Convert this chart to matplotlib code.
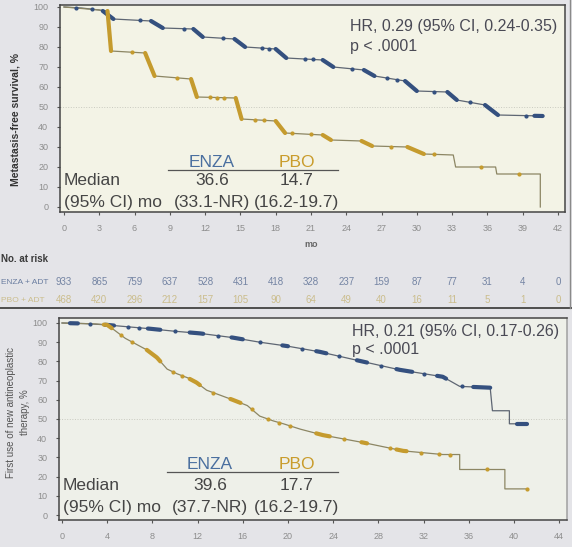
import numpy as np
import matplotlib
matplotlib.use("Agg")
import matplotlib.pyplot as plt
from matplotlib.transforms import blended_transform_factory
from matplotlib.lines import Line2D

plt.rcParams["font.family"] = ["Liberation Sans", "DejaVu Sans"]

W, H = 572, 547

ENZA_MARK = "#34507f"
PBO_MARK = "#c59b2e"
ENZA_LINE = "#5e6673"
PBO_LINE = "#8c8664"
ENZA_TXT = "#4a6f9f"
PBO_TXT = "#c99c2c"

# ---- top panel: metastasis-free survival ----
mfs_ticks = [0, 3, 6, 9, 12, 15, 18, 21, 24, 27, 30, 33, 36, 39, 42]

mfs_enza_t = [0, 1.5, 3.0, 3.3, 4.2, 7.4, 8.4, 11.0, 11.8, 14.5, 15.4, 18.0, 18.9,
              22.0, 22.9, 25.5, 26.4, 29.0, 30.0, 32.6, 33.4, 35.8, 36.9, 40.7]
mfs_enza_v = [100, 99.5, 98.5, 98, 94, 93, 89.5, 89, 85, 84, 80, 79, 74.5,
              73.5, 70, 68.5, 65.5, 63, 58, 57.5, 53.5, 51, 46, 45.5]
mfs_enza_bold = [(3.3, 4.2), (7.4, 8.4), (11.0, 11.8), (14.5, 15.4), (18.0, 18.9),
                 (22.0, 22.9), (25.5, 26.4), (29.0, 30.0), (32.6, 33.4), (35.8, 36.9),
                 (40.0, 40.7)]
mfs_enza_dots = [1.0, 2.4, 6.5, 10.2, 13.5, 16.8, 17.4, 20.5, 21.2, 24.5, 27.5, 28.3,
                 31.5, 34.5, 39.3]

mfs_pbo_t = [0, 3.0, 3.7, 4.0, 6.9, 7.7, 10.8, 11.3, 14.6, 15.1, 18.0, 18.8, 22.0,
             22.7, 25.3, 26.2, 29.2, 30.6, 33.1, 33.3, 36.7, 36.8, 40.5, 40.5]
mfs_pbo_v = [100, 98.5, 98, 78, 77, 65.5, 64, 55, 54.5, 44, 43, 37, 36,
             33.5, 33, 30.5, 30, 26.5, 26, 20, 20, 16.5, 16.5, 0]
mfs_pbo_bold = [(3.7, 4.0), (6.9, 7.7), (10.8, 11.3), (14.6, 15.1), (18.0, 18.8),
                (22.0, 22.7), (25.3, 26.2), (29.2, 30.6)]
mfs_pbo_dots = [5.8, 9.6, 12.4, 13.0, 13.6, 16.2, 17.0, 19.4, 21.0, 27.8, 31.5,
                35.5, 38.7]

# numbers at risk
risk_enza = [933, 865, 759, 637, 528, 431, 418, 328, 237, 159, 87, 77, 31, 4, 0]
risk_pbo = [468, 420, 296, 212, 157, 105, 90, 64, 49, 40, 16, 11, 5, 1, 0]

# ---- bottom panel: first use of new antineoplastic therapy ----
tfu_ticks = [0, 4, 8, 12, 16, 20, 24, 28, 32, 36, 40, 44]

tfu_enza_t = [0, 2.0, 4.0, 4.9, 7.8, 9.8, 12.2, 15.1, 17.5, 19.9, 22.8, 26.4, 29.9,
              33.7, 35.2, 37.9, 38.1, 39.6, 39.6, 41.2]
tfu_enza_v = [100, 99.7, 99, 98.5, 97, 95.8, 94.6, 92.4, 90, 88, 85, 80.2, 75.6,
              72, 67, 66.3, 54.3, 54.3, 47.5, 47.5]
tfu_enza_bold = [(0.7, 1.4), (3.8, 4.6), (7.6, 8.7), (11.3, 12.5), (15.0, 16.0),
                 (19.5, 20.0), (22.5, 23.4), (26.1, 27.0), (29.6, 31.0), (33.2, 34.0),
                 (36.4, 37.9), (40.3, 41.2)]
tfu_enza_dots = [2.5, 5.8, 6.8, 10.0, 13.8, 17.5, 21.2, 24.5, 28.2, 32.0, 35.4]

tfu_pbo_t = [0, 3.0, 4.0, 4.7, 5.6, 7.5, 8.4, 9.3, 10.2, 11.1, 11.9, 12.8, 14.0,
             15.1, 16.4, 17.5, 18.7, 19.6, 21.1, 23.1, 26.6, 30.2, 33.7, 35.2, 35.2,
             39.2, 39.2, 41.2]
tfu_pbo_v = [100, 99.5, 99, 96, 92, 86, 82, 76, 73.5, 71.5, 69, 65, 62.4,
             60, 57, 51.5, 49, 47.5, 44.7, 41.6, 37.8, 33.4, 31.5, 31.5, 23.7,
             23.7, 13.6, 13.6]
tfu_pbo_bold = [(3.7, 4.4), (7.5, 8.7), (11.3, 12.2), (14.9, 15.8), (22.5, 23.7),
                (26.5, 27.0), (29.6, 30.5)]
tfu_pbo_dots = [5.2, 6.2, 9.8, 10.6, 13.4, 16.8, 18.2, 19.2, 20.2, 25.0, 29.0, 31.8,
                33.4, 34.3, 37.6, 41.2]


def px_ax(fig, l, t, r, b):
    return fig.add_axes([l / W, 1 - b / H, (r - l) / W, (b - t) / H])


def style(ax, ticks, xlim, ylim, face):
    ax.set_facecolor(face)
    ax.set_xlim(*xlim)
    ax.set_ylim(*ylim)
    ax.set_xticks(ticks)
    ax.set_yticks(range(0, 101, 10))
    ax.tick_params(labelsize=6.5, labelcolor="#8d8d8d", color="#555555",
                   length=2.5, width=0.8, pad=6)
    for s in ax.spines.values():
        s.set_color("#454545")
        s.set_linewidth(1.1)
    ax.axhline(50, color="#c9cac0", lw=0.7, ls=":", zorder=1)


def draw_km(ax, t, v, line_c, mark_c, bold, dots):
    ax.plot(t, v, color=line_c, lw=0.9, zorder=3)
    for a, b in bold:
        tt = np.linspace(a, b, 15)
        ax.plot(tt, np.interp(tt, t, v), color=mark_c, lw=3.0,
                solid_capstyle="round", zorder=4)
    ax.plot(dots, np.interp(dots, t, v), ls="", marker="o", ms=2.0,
            color=mark_c, zorder=5)


def median_box(ax, ys, enza_med, enza_ci, pbo_med, pbo_ci, x_enza, x_pbo, x_line):
    y_head, y_line, y_med, y_ci = ys
    fs = 12.5
    ax.text(0.008, y_med, "Median", transform=ax.transAxes, fontsize=fs,
            color="#454545", va="center", ha="left", zorder=6)
    ax.text(0.008, y_ci, "(95% CI) mo", transform=ax.transAxes, fontsize=fs,
            color="#454545", va="center", ha="left", zorder=6)
    ax.text(x_enza, y_head, "ENZA", transform=ax.transAxes, fontsize=fs,
            color=ENZA_TXT, va="center", ha="center", zorder=6)
    ax.text(x_pbo, y_head, "PBO", transform=ax.transAxes, fontsize=fs,
            color=PBO_TXT, va="center", ha="center", zorder=6)
    ax.add_line(Line2D(x_line, [y_line, y_line], transform=ax.transAxes,
                       color="#555555", lw=0.9, zorder=6))
    ax.text(x_enza, y_med, enza_med, transform=ax.transAxes, fontsize=fs,
            color="#454545", va="center", ha="center", zorder=6)
    ax.text(x_pbo, y_med, pbo_med, transform=ax.transAxes, fontsize=fs,
            color="#454545", va="center", ha="center", zorder=6)
    ax.text(x_enza, y_ci, enza_ci, transform=ax.transAxes, fontsize=fs,
            color="#454545", va="center", ha="center", zorder=6)
    ax.text(x_pbo, y_ci, pbo_ci, transform=ax.transAxes, fontsize=fs,
            color="#454545", va="center", ha="center", zorder=6)


fig = plt.figure(figsize=(W / 100, H / 100), dpi=100)
fig.patch.set_facecolor("#e4e4e8")

# top panel
ax1 = px_ax(fig, 60, 5, 565, 212)
style(ax1, mfs_ticks, (-0.34, 42.6), (-2.5, 101.0), "#f3f3e6")
draw_km(ax1, mfs_enza_t, mfs_enza_v, ENZA_LINE, ENZA_MARK, mfs_enza_bold, mfs_enza_dots)
draw_km(ax1, mfs_pbo_t, mfs_pbo_v, PBO_LINE, PBO_MARK, mfs_pbo_bold, mfs_pbo_dots)
ax1.text(0.574, 0.895, "HR, 0.29 (95% CI, 0.24-0.35)", transform=ax1.transAxes,
         fontsize=11.5, color="#4a4a55", va="center")
ax1.text(0.574, 0.80, "p < .0001", transform=ax1.transAxes,
         fontsize=11.5, color="#4a4a55", va="center")
median_box(ax1, (0.24, 0.205, 0.15, 0.045), "36.6", "(33.1-NR)", "14.7", "(16.2-19.7)",
           0.301, 0.469, [0.214, 0.55])
ax1.text(21, -0.155, "mo", transform=blended_transform_factory(ax1.transData, ax1.transAxes),
         fontsize=6.5, fontweight="bold", color="#666666", ha="center", va="center")
fig.text(16 / W, 1 - 120 / H, "Metastasis-free survival, %", rotation=90,
         fontsize=7.5, fontweight="bold", color="#333333", ha="center", va="center")

# numbers at risk
tr = blended_transform_factory(ax1.transData, fig.transFigure)
fig.text(1 / W, 1 - 259 / H, "No. at risk", fontsize=7, fontweight="bold",
         color="#3a3a3a", ha="left", va="center")
fig.text(1 / W, 1 - 282 / H, "ENZA + ADT", fontsize=6, color="#6a7da0",
         ha="left", va="center")
fig.text(1 / W, 1 - 300 / H, "PBO + ADT", fontsize=6, color="#cbbd8c",
         ha="left", va="center")
for m, ne, npb in zip(mfs_ticks, risk_enza, risk_pbo):
    fig.text(m, 1 - 282 / H, str(ne), transform=tr, fontsize=7, color="#7484a3",
             ha="center", va="center")
    fig.text(m, 1 - 300 / H, str(npb), transform=tr, fontsize=7, color="#cbbd8c",
             ha="center", va="center")

fig.add_artist(Line2D([0, 1], [1 - 308 / H, 1 - 308 / H], transform=fig.transFigure,
                      color="#4d4d4d", lw=1.4))
fig.add_artist(Line2D([569.5 / W, 569.5 / W], [1 - 308 / H, 1], transform=fig.transFigure,
                      color="#8a8a8a", lw=1.0))

# bottom panel
ax2 = px_ax(fig, 59, 318, 567, 520)
style(ax2, tfu_ticks, (-0.27, 44.7), (-2.6, 102.6), "#eef0e9")
ax2.spines["right"].set_color("#a0a0a0")
draw_km(ax2, tfu_enza_t, tfu_enza_v, ENZA_LINE, ENZA_MARK, tfu_enza_bold, tfu_enza_dots)
draw_km(ax2, tfu_pbo_t, tfu_pbo_v, PBO_LINE, PBO_MARK, tfu_pbo_bold, tfu_pbo_dots)
ax2.text(0.577, 0.935, "HR, 0.21 (95% CI, 0.17-0.26)", transform=ax2.transAxes,
         fontsize=11.5, color="#4a4a55", va="center")
ax2.text(0.577, 0.845, "p < .0001", transform=ax2.transAxes,
         fontsize=11.5, color="#4a4a55", va="center")
median_box(ax2, (0.275, 0.238, 0.17, 0.062), "39.6", "(37.7-NR)", "17.7", "(16.2-19.7)",
           0.297, 0.468, [0.213, 0.549])
fig.text(18 / W, 1 - 412 / H, "First use of new antineoplastic\ntherapy, %", rotation=90,
         fontsize=7, color="#555555", ha="center", va="center", multialignment="center",
         linespacing=1.4)

fig.savefig("out.png", dpi=100, facecolor=fig.get_facecolor())
